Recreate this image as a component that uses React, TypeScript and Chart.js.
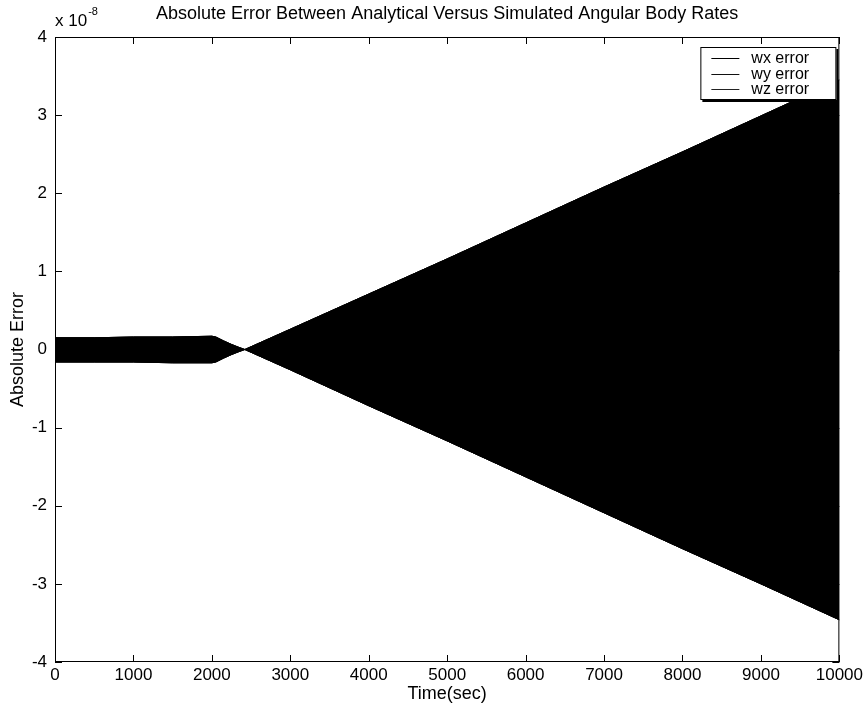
import React, { useEffect, useRef } from "react";
import { Chart, registerables } from "chart.js";

Chart.register(...registerables);

const FONT = '"Liberation Sans", Arial, Helvetica, sans-serif';

const titleText = "Absolute Error Between Analytical Versus Simulated Angular Body Rates";
const xTitle = "Time(sec)";
const yTitle = "Absolute Error";
const exponent = -8;

const seriesNames = ["wx error", "wy error", "wz error"];
const seriesColors = ["#000000", "#111111", "#222222"];

// envelope of the dense oscillation (units of 1e-8)
const bandTime = [0, 500, 1000, 1500, 2000, 2050, 2150, 2250, 2350, 2420, 3000, 4000, 5000, 6000, 7000, 8000, 9000, 10000];
const bandUpper = [0.15, 0.15, 0.16, 0.16, 0.17, 0.16, 0.11, 0.065, 0.025, 0, 0.26, 0.71, 1.16, 1.62, 2.08, 2.53, 2.99, 3.45];
const bandLower = [-0.16, -0.16, -0.16, -0.17, -0.17, -0.16, -0.11, -0.065, -0.025, 0, -0.26, -0.72, -1.17, -1.63, -2.09, -2.55, -3.0, -3.46];

const xTicks = [0, 1000, 2000, 3000, 4000, 5000, 6000, 7000, 8000, 9000, 10000];
const yTicks = [-4, -3, -2, -1, 0, 1, 2, 3, 4];

const decorPlugin = {
  id: "decor",
  afterDraw(chart: any) {
    const { ctx, chartArea: a, scales } = chart;
    ctx.save();
    ctx.strokeStyle = "#000";
    ctx.lineWidth = 1;
    // frame
    ctx.strokeRect(a.left + 0.5, a.top + 0.5, a.right - a.left - 1, a.bottom - a.top - 1);
    // inward ticks on all four sides
    const L = 7;
    ctx.beginPath();
    for (const v of xTicks) {
      const px = Math.round(scales.x.getPixelForValue(v)) + 0.5;
      ctx.moveTo(px, a.bottom);
      ctx.lineTo(px, a.bottom - L);
      ctx.moveTo(px, a.top);
      ctx.lineTo(px, a.top + L);
    }
    for (const v of yTicks) {
      const py = Math.round(scales.y.getPixelForValue(v)) + 0.5;
      ctx.moveTo(a.left, py);
      ctx.lineTo(a.left + L, py);
      ctx.moveTo(a.right, py);
      ctx.lineTo(a.right - L, py);
    }
    ctx.stroke();

    // title
    ctx.fillStyle = "#000";
    ctx.font = `18px ${FONT}`;
    ctx.textAlign = "center";
    ctx.textBaseline = "middle";
    ctx.fillText(titleText, (a.left + a.right) / 2, 14);

    // exponent label
    ctx.textAlign = "left";
    ctx.textBaseline = "alphabetic";
    ctx.font = `17px ${FONT}`;
    ctx.fillText("x 10", a.left, 26);
    const w = ctx.measureText("x 10").width;
    ctx.font = `11px ${FONT}`;
    ctx.fillText(String(exponent), a.left + w + 1, 15);

    // legend
    const bx = a.right - 139;
    const by = a.top + 10;
    const bw = 136;
    const pitch = 15.5;
    const first = 11;
    const bh = first * 2 + pitch * (seriesNames.length - 1);
    ctx.fillStyle = "#000";
    ctx.fillRect(bx + 2, by + 2, bw, bh);
    ctx.fillStyle = "#fff";
    ctx.fillRect(bx, by, bw, bh);
    ctx.strokeRect(bx + 0.5, by + 0.5, bw - 1, bh - 1);
    ctx.font = `16px ${FONT}`;
    ctx.textBaseline = "middle";
    seriesNames.forEach((name, i) => {
      const yy = by + first + i * pitch;
      ctx.strokeStyle = seriesColors[i];
      ctx.beginPath();
      ctx.moveTo(bx + 11, Math.round(yy) + 0.5);
      ctx.lineTo(bx + 39, Math.round(yy) + 0.5);
      ctx.stroke();
      ctx.fillStyle = "#000";
      ctx.fillText(name, bx + 51, yy + 1);
    });
    ctx.restore();
  },
};

export default function App() {
  const ref = useRef<HTMLCanvasElement | null>(null);

  useEffect(() => {
    if (!ref.current) return;
    const datasets: any[] = [];
    seriesNames.forEach((name, i) => {
      datasets.push({
        label: name,
        data: bandTime.map((t, k) => ({ x: t, y: bandUpper[k] })),
        borderColor: seriesColors[i],
        backgroundColor: seriesColors[i],
        borderWidth: 1,
        pointRadius: 0,
        tension: 0,
        fill: "+1",
      });
      datasets.push({
        label: name + " (lower)",
        data: bandTime.map((t, k) => ({ x: t, y: bandLower[k] })),
        borderColor: seriesColors[i],
        backgroundColor: seriesColors[i],
        borderWidth: 1,
        pointRadius: 0,
        tension: 0,
        fill: false,
      });
    });

    const chart = new Chart(ref.current, {
      type: "line",
      data: { datasets },
      options: {
        animation: false,
        responsive: true,
        maintainAspectRatio: false,
        layout: { padding: { top: 37, right: 26, left: 0, bottom: 0 } },
        plugins: {
          legend: { display: false },
          title: { display: false },
          tooltip: { enabled: false },
          filler: { propagate: false },
        },
        scales: {
          x: {
            type: "linear",
            min: 0,
            max: 10000,
            afterBuildTicks: (s: any) => {
              s.ticks = xTicks.map((v) => ({ value: v }));
            },
            afterFit: (s: any) => {
              s.height = 49;
            },
            grid: { display: false, drawTicks: false },
            border: { display: false },
            ticks: {
              color: "#000",
              font: { family: FONT, size: 17 },
              padding: 3,
              maxRotation: 0,
              autoSkip: false,
              callback: (v: any) => String(v),
            },
            title: {
              display: true,
              text: xTitle,
              color: "#000",
              font: { family: FONT, size: 18 },
              padding: { top: 0, bottom: 6 },
            },
          },
          y: {
            type: "linear",
            min: -4,
            max: 4,
            afterBuildTicks: (s: any) => {
              s.ticks = yTicks.map((v) => ({ value: v }));
            },
            afterFit: (s: any) => {
              s.width = 55;
            },
            grid: { display: false, drawTicks: false },
            border: { display: false },
            ticks: {
              color: "#000",
              font: { family: FONT, size: 17 },
              padding: 8,
              autoSkip: false,
              callback: (v: any) => String(v),
            },
            title: {
              display: true,
              text: yTitle,
              color: "#000",
              font: { family: FONT, size: 18 },
              padding: { top: 7, bottom: 0 },
            },
          },
        },
      },
      plugins: [decorPlugin],
    });
    return () => chart.destroy();
  }, []);

  return (
    <div style={{ position: "absolute", left: 0, top: 0, width: 866, height: 711, background: "#fff" }}>
      <canvas ref={ref} />
    </div>
  );
}
